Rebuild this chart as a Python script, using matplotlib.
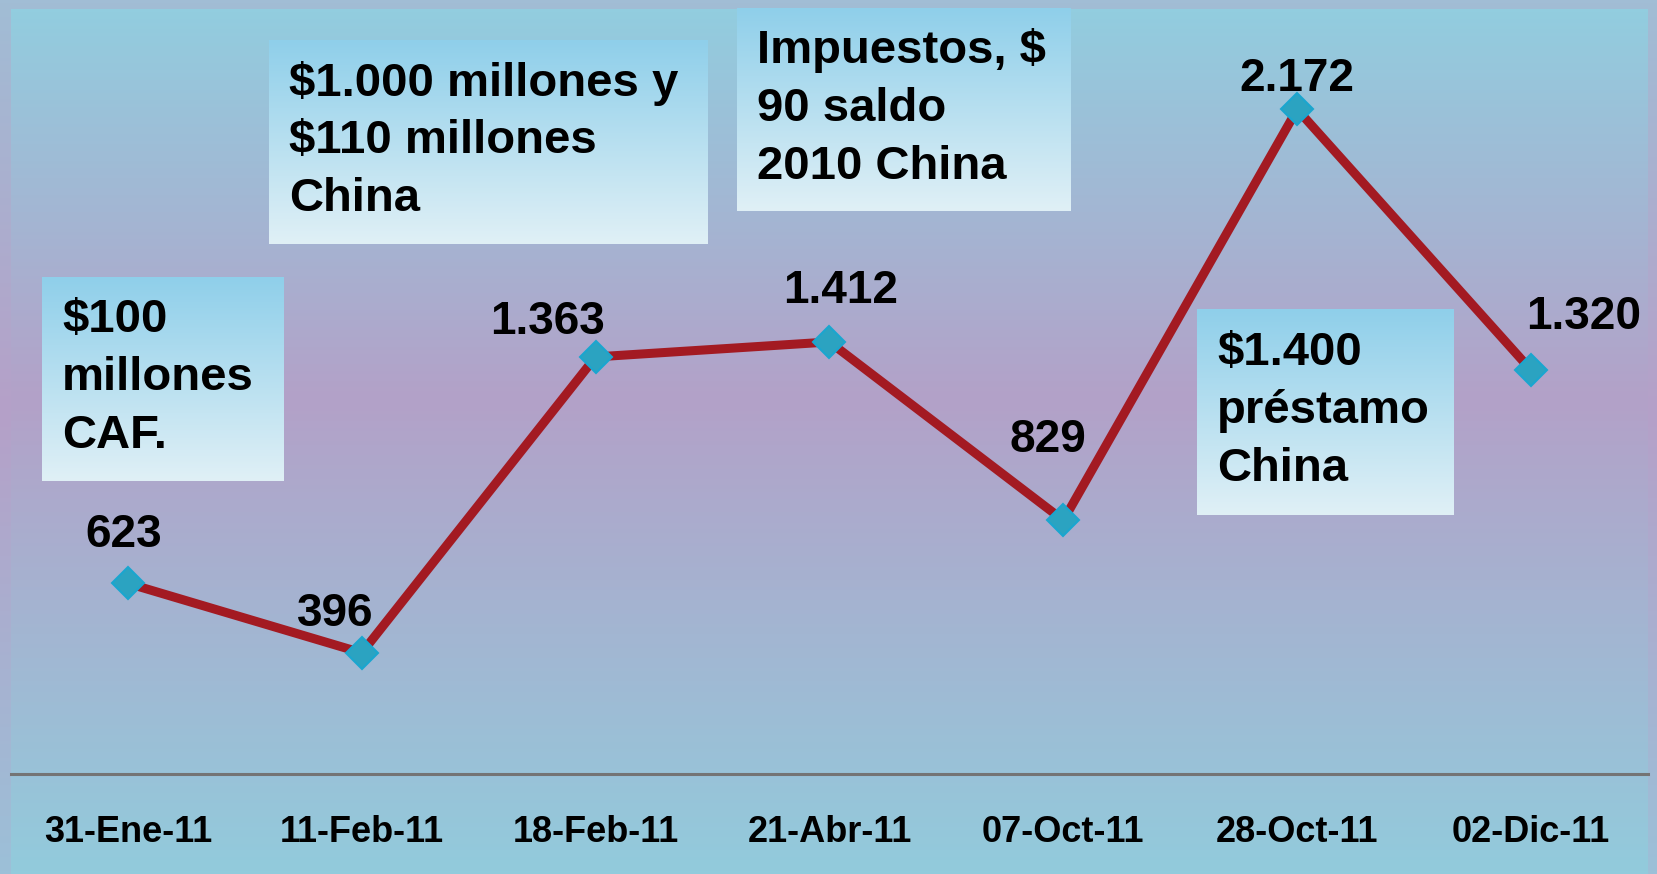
import matplotlib.pyplot as plt
import matplotlib.colors as mcolors
import numpy as np

# datos
fechas = ['31-Ene-11', '11-Feb-11', '18-Feb-11', '21-Abr-11', '07-Oct-11', '28-Oct-11', '02-Dic-11']
valores = [623, 396, 1363, 1412, 829, 2172, 1320]
notas = ['$100\nmillones\nCAF.',
         '$1.000 millones y\n$110 millones\nChina',
         'Impuestos, $\n90 saldo\n2010 China',
         '$1.400\npréstamo\nChina']

# desplazamiento de las etiquetas (puntos)
offsets = [(-3, 35), (-19, 28), (-35, 25), (8, 37), (-11, 58), (0, 22), (38, 38)]
# cajas de notas en pixeles de la figura: x0, x1, y0, y1
cajas = [(42, 284, 277, 481), (269, 708, 40, 244), (737, 1071, 8, 211), (1197, 1454, 309, 515)]

W, H = 1658, 874
FONT = 'Liberation Sans'


def gradiente(stops, n=256):
    pos = [s[0] for s in stops]
    cols = np.array([mcolors.to_rgb(s[1]) for s in stops])
    t = np.linspace(0, 1, n)
    img = np.stack([np.interp(t, pos, cols[:, k]) for k in range(3)], axis=-1)
    return img[:, None, :]


fig = plt.figure(figsize=(W / 100, H / 100), dpi=100)

bg = fig.add_axes([0, 0, 1, 1])
bg.set_xlim(0, W)
bg.set_ylim(H, 0)
bg.axis('off')

# fondo exterior e interior
bg.imshow(gradiente([(0, '#a1bdd5'), (0.47, '#b5a0c8'), (1, '#9cc0d8')]),
          extent=(0, W, H, 0), aspect='auto')
bg.imshow(gradiente([(0, '#92cddf'), (0.45, '#b3a1c8'), (1, '#92cbdc')]),
          extent=(11, 1648, H, 9), aspect='auto')

# cajas con notas
for (x0, x1, y0, y1), txt in zip(cajas, notas):
    bg.imshow(gradiente([(0, '#8fcfea'), (1, '#e0f0f6')]),
              extent=(x0, x1, y1, y0), aspect='auto')
    bg.text(x0 + 20, (y0 + y1) / 2 - 1, txt, ha='left', va='center',
            fontsize=34, fontweight='bold', family=FONT, linespacing=1.4)

bg.set_xlim(0, W)
bg.set_ylim(H, 0)

ax = fig.add_axes([11 / W, (H - 774) / H, (1648 - 11) / W, (774 - 9) / H])
ax.patch.set_visible(False)
x = np.arange(len(fechas))
ax.plot(x, valores, color='#a31a22', linewidth=6.5, marker='D', markersize=16,
        markerfacecolor='#2ba3c1', markeredgecolor='#1aa6cf', markeredgewidth=1.5)

for i, v in enumerate(valores):
    ax.annotate(f'{v:,}'.replace(',', '.'), (i, v), xytext=offsets[i],
                textcoords='offset points', ha='center', va='center',
                fontsize=33, fontweight='bold', family=FONT)

ax.set_xlim(-0.5, len(fechas) - 0.5)
ax.set_ylim(0, 2500)
ax.set_xticks(x)
ax.set_xticklabels(fechas, fontsize=26, fontweight='bold', family=FONT)
ax.tick_params(axis='x', length=0, pad=29.5)
ax.set_yticks([])
for s in ['top', 'left', 'right']:
    ax.spines[s].set_visible(False)
ax.spines['bottom'].set_color('#747474')
ax.spines['bottom'].set_linewidth(2.2)

fig.savefig('out.png', dpi=100)
